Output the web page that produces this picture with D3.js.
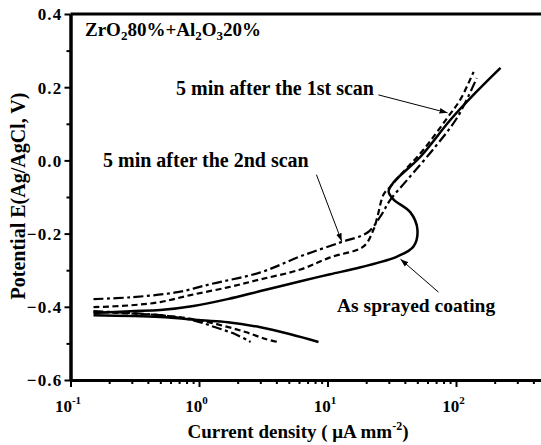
<!DOCTYPE html>
<html lang="en">
<head>
<meta charset="UTF-8">
<title>Polarization curves</title>
<script src="https://d3js.org/d3.v7.min.js"></script>
<style>
  body { margin: 0; background: #fff; }
  svg text { font-family: "Liberation Serif", "Times New Roman", serif; font-weight: bold; fill: #000; }
  .axis path, .axis line { stroke: #000; }
  .axis path { stroke-width: 3; }
  .axis line { stroke-width: 2; }
</style>
</head>
<body>
<svg id="chart" width="541" height="445"></svg>
<script>
// current density (uA mm-2) vs potential (V)
const sprayedAnodic = [[0.151,-0.417],[0.293,-0.412],[0.50,-0.409],[0.906,-0.398],[1.67,-0.379],[3.01,-0.357],
  [6.17,-0.330],[10.5,-0.311],[18.1,-0.292],[35.1,-0.262],[46.7,-0.235],[50.1,-0.189],[44.2,-0.142],
  [32.7,-0.107],[29.9,-0.085],[32.7,-0.060],[52.9,0.010],[90.6,0.111],[142,0.185],[222,0.253]];
const sprayedCathodic = [[0.151,-0.423],[0.50,-0.428],[1.03,-0.437],[1.67,-0.442],[3.01,-0.456],[5.15,-0.475],[8.51,-0.496]];

const scan1Anodic = [[0.151,-0.401],[0.293,-0.396],[0.50,-0.387],[0.859,-0.368],[1.67,-0.347],[3.01,-0.325],
  [6.17,-0.298],[10.5,-0.265],[19.1,-0.235],[22.8,-0.189],[24.5,-0.153],[27.3,-0.093],[30.9,-0.071],
  [40.4,-0.025],[55.8,0.029],[85.9,0.117],[108,0.166],[137,0.242]];
const scan1Cathodic = [[0.151,-0.414],[0.50,-0.423],[0.906,-0.434],[1.47,-0.450],[2.30,-0.469],[3.30,-0.488],[4.08,-0.496]];

const scan2Anodic = [[0.151,-0.379],[0.293,-0.374],[0.681,-0.360],[1.23,-0.338],[3.01,-0.306],[6.17,-0.262],
  [12.6,-0.224],[20.5,-0.197],[25.8,-0.153],[30.9,-0.107],[42.0,-0.052],[69.2,0.038],[103,0.119],[145,0.225]];
const scan2Cathodic = [[0.151,-0.412],[0.50,-0.423],[0.906,-0.437],[1.34,-0.456],[1.92,-0.475],[2.52,-0.496]];

const yTicks = [0.4, 0.2, 0.0, -0.2, -0.4, -0.6];
const yMinor = [0.3, 0.1, -0.1, -0.3, -0.5];
const xDecades = [-1, 0, 1, 2];

const FONT = '"Liberation Serif", "Times New Roman", serif';
const svg = d3.select("#chart");
const padLeft = 70.5, padTop = 14, padBottom = 380;

const x = d3.scaleLog().domain([0.1, 1000]).range([padLeft, padLeft + 4 * 128.5]);
const y = d3.scaleLinear().domain([-0.6, 0.4]).range([padBottom, padTop]);

// minor ticks on x: 2..9 in each decade
const xMinor = [];
xDecades.forEach(d => { for (let k = 2; k < 10; k++) xMinor.push(k * Math.pow(10, d)); });

svg.append("g").attr("class", "axis")
  .attr("transform", `translate(0,${padBottom})`)
  .call(d3.axisBottom(x).tickValues(xMinor).tickSize(4).tickSizeOuter(0).tickFormat(""));

const xAxis = svg.append("g").attr("class", "axis")
  .attr("transform", `translate(0,${padBottom})`)
  .call(d3.axisBottom(x).tickValues(xDecades.map(d => Math.pow(10, d))).tickSize(7).tickSizeOuter(0).tickFormat(""));
xAxis.attr("font-family", FONT).attr("font-weight", "bold");
xAxis.selectAll(".tick").each(function (d, i) {
  const t = d3.select(this).append("text").attr("x", -3).attr("y", 32).attr("text-anchor", "middle")
    .attr("font-size", 17).attr("fill", "#000");
  t.append("tspan").text("10");
  t.append("tspan").attr("dy", -8).attr("font-size", 11).text(xDecades[i]);
});

svg.append("g").attr("class", "axis")
  .attr("transform", `translate(${padLeft},0)`)
  .call(d3.axisLeft(y).tickValues(yMinor).tickSize(4).tickSizeOuter(0).tickFormat(""));
svg.append("g").attr("class", "axis")
  .attr("transform", `translate(${padLeft},0)`)
  .attr("font-family", FONT).attr("font-weight", "bold")
  .call(d3.axisLeft(y).tickValues(yTicks).tickSize(6).tickSizeOuter(0).tickFormat(d3.format(".1f")))
  .selectAll("text").attr("font-size", 17).attr("letter-spacing", 1.2).attr("x", -8).attr("dy", "0.35em");

// top frame line
svg.append("line").attr("x1", padLeft).attr("x2", 541).attr("y1", padTop).attr("y2", padTop)
  .attr("stroke", "#000").attr("stroke-width", 3);

// curves
const line = d3.line().x(d => x(d[0])).y(d => y(d[1])).curve(d3.curveCatmullRom.alpha(0.5));
const series = [
  { data: sprayedAnodic, dash: null, w: 2.5 },
  { data: sprayedCathodic, dash: null, w: 2.5 },
  { data: scan1Anodic, dash: "6,3.5", w: 2.2 },
  { data: scan1Cathodic, dash: "6,3.5", w: 2.2 },
  { data: scan2Anodic, dash: "10,3.5,3,3.5", w: 2.2 },
  { data: scan2Cathodic, dash: "10,3.5,3,3.5", w: 2.2 }
];
svg.selectAll("path.curve").data(series).join("path")
  .attr("class", "curve")
  .attr("d", d => line(d.data))
  .attr("fill", "none").attr("stroke", "#000")
  .attr("stroke-width", d => d.w)
  .attr("stroke-dasharray", d => d.dash);

// arrows
svg.append("defs").append("marker")
  .attr("id", "head").attr("viewBox", "0 0 10 10").attr("refX", 10).attr("refY", 5)
  .attr("markerWidth", 8).attr("markerHeight", 8).attr("orient", "auto")
  .append("path").attr("d", "M0,1.5L10,5L0,8.5z").attr("fill", "#000");

const arrows = [
  [[24.9, 0.179], [85.9, 0.130]],
  [[8.2, -0.039], [12.9, -0.221]],
  [[73.1, -0.360], [37.0, -0.270]]
];
svg.selectAll("line.arrow").data(arrows).join("line")
  .attr("class", "arrow")
  .attr("x1", d => x(d[0][0])).attr("y1", d => y(d[0][1]))
  .attr("x2", d => x(d[1][0])).attr("y2", d => y(d[1][1]))
  .attr("stroke", "#000").attr("stroke-width", 1)
  .attr("marker-end", "url(#head)");

// labels
const title = svg.append("text").attr("x", 85).attr("y", 36).style("font-size", "19px");
title.append("tspan").text("ZrO");
title.append("tspan").attr("dy", 4).style("font-size", "13px").text("2");
title.append("tspan").attr("dy", -4).text("80%+Al");
title.append("tspan").attr("dy", 4).style("font-size", "13px").text("2");
title.append("tspan").attr("dy", -4).text("O");
title.append("tspan").attr("dy", 4).style("font-size", "13px").text("3");
title.append("tspan").attr("dy", -4).text("20%");

svg.append("text").attr("x", 176).attr("y", 95).style("font-size", "20px").text("5 min after the 1st scan");
svg.append("text").attr("x", 103).attr("y", 167).style("font-size", "20px").text("5 min after the 2nd scan");
svg.append("text").attr("x", 337).attr("y", 312).style("font-size", "19.5px").text("As sprayed coating");

// axis titles
const xt = svg.append("text").attr("x", 298).attr("y", 438).attr("text-anchor", "middle").style("font-size", "19px");
xt.append("tspan").text("Current density ( \u03bcA mm");
xt.append("tspan").attr("dy", -8).style("font-size", "12px").text("-2");
xt.append("tspan").attr("dy", 8).text(")");

svg.append("text")
  .attr("transform", "translate(25,196) rotate(-90)")
  .attr("text-anchor", "middle").style("font-size", "20px")
  .text("Potential E(Ag/AgCl, V)");
</script>
</body>
</html>
